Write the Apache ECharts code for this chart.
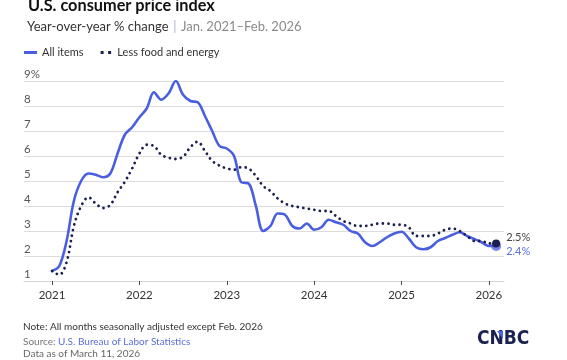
<!DOCTYPE html>
<html>
<head>
<meta charset="utf-8">
<script src="https://cdn.jsdelivr.net/npm/echarts@6/dist/echarts.min.js"></script>
<style>
html,body{margin:0;padding:0;background:#fff;}
#chart{width:567px;height:360px;}
</style>
</head>
<body>
<div id="chart"></div>
<script>
// Months Jan 2021 .. Feb 2026 (index 0 .. 61)
const startYear = 2021;
const yearTicks = ['2021', '2022', '2023', '2024', '2025', '2026'];
const yTicks = [1, 2, 3, 4, 5, 6, 7, 8, 9];

const allItems = [
  1.4, 1.6, 2.6, 4.2, 5.0, 5.3, 5.25, 5.15, 5.3, 6.1, 6.85, 7.15,
  7.55, 7.9, 8.55, 8.25, 8.5, 9.0, 8.45, 8.2, 8.15, 7.6, 7.0, 6.4,
  6.3, 6.0, 4.95, 4.9, 4.0, 3.0, 3.2, 3.7, 3.65, 3.2, 3.1, 3.3,
  3.05, 3.15, 3.45, 3.35, 3.25, 3.0, 2.9, 2.55, 2.4, 2.55, 2.75, 2.9,
  2.97, 2.7, 2.35, 2.27, 2.35, 2.6, 2.72, 2.85, 2.95, 2.8, 2.68, 2.55,
  2.4, 2.4
];
const core = [
  1.4, 1.25, 1.75, 3.2, 4.0, 4.35, 4.1, 3.92, 4.04, 4.55, 4.97, 5.5,
  6.1, 6.45, 6.4, 6.05, 5.93, 5.88, 5.97, 6.35, 6.57, 6.2, 5.8, 5.62,
  5.5, 5.45, 5.55, 5.5, 5.2, 4.8, 4.6, 4.3, 4.1, 4.0, 3.95, 3.9,
  3.85, 3.8, 3.8, 3.6, 3.4, 3.3, 3.2, 3.2, 3.25, 3.3, 3.3, 3.25,
  3.25, 3.15, 2.8, 2.8, 2.8, 2.9, 3.05, 3.1, 3.0, 2.8, 2.6, 2.6,
  2.5, 2.5
];
const allLabel = '2.4%';
const coreLabel = '2.5%';

const blue = '#4a5fe0';
const navy = '#1b1f4f';
const last = allItems.length - 1;
const toXY = arr => arr.map((v, i) => [i, v]);
const yearIdx = yearTicks.map((_, i) => i * 12);
const FONT = 'Lato, "Open Sans", sans-serif';

const chart = echarts.init(document.getElementById('chart'), null, {renderer: 'canvas'});
chart.setOption({
  animation: false,
  backgroundColor: '#fff',
  textStyle: {fontFamily: FONT},
  grid: {left: 24, right: 63, top: 81, bottom: 79, containLabel: false},
  xAxis: {
    type: 'value',
    min: -3.85,
    max: 62.08,
    splitLine: {show: false},
    axisLine: {show: true, lineStyle: {color: '#d6d6d6', width: 1}},
    axisTick: {show: true, customValues: yearIdx, length: 4, lineStyle: {color: '#444'}},
    axisLabel: {
      customValues: yearIdx,
      formatter: v => String(startYear + Math.round(v / 12)),
      color: '#333', fontSize: 11.5, margin: 8, fontFamily: FONT
    }
  },
  yAxis: {
    type: 'value',
    min: 1, max: 9, interval: 1,
    axisLine: {show: false},
    axisTick: {show: false},
    splitLine: {lineStyle: {color: '#dcdcdc', width: 1}},
    axisLabel: {
      inside: true,
      margin: 0,
      align: 'left',
      verticalAlign: 'bottom',
      padding: [0, 0, 1, 0],
      color: '#555', fontSize: 11.5, fontFamily: FONT,
      formatter: v => v === 9 ? '9%' : String(v)
    }
  },
  legend: {
    show: true,
    left: 19, top: 42,
    itemWidth: 13, itemHeight: 3, itemGap: 17,
    textStyle: {color: '#333', fontSize: 11, fontFamily: FONT},
    data: [
      {name: 'All items', icon: 'rect', itemStyle: {color: blue}},
      {name: 'Less food and energy', icon: 'path://M0,0 h2 v2 h-2 z M5,0 h2 v2 h-2 z', itemStyle: {color: navy}}
    ]
  },
  title: [
    {text: 'U.S. consumer price index', left: 23, top: -7,
     textStyle: {fontSize: 16.3, fontWeight: 'bold', color: '#111', fontFamily: FONT}},
    {text: '{a|Year-over-year % change} {b||} {c|Jan. 2021–Feb. 2026}', left: 22, top: 13,
     textStyle: {fontWeight: 'normal', rich: {
       a: {fontSize: 13, color: '#333', fontWeight: 'normal', fontFamily: FONT},
       b: {fontSize: 13, color: '#a9b7d6', fontWeight: 'normal', fontFamily: FONT},
       c: {fontSize: 13, color: '#8a8a8a', fontWeight: 'normal', fontFamily: FONT}
     }}},
    {text: 'Note: All months seasonally adjusted except Feb. 2026', left: 18, top: 317,
     textStyle: {fontSize: 10, fontWeight: 'normal', color: '#333', fontFamily: FONT}},
    {text: '{g|Source: }{l|U.S. Bureau of Labor Statistics}', left: 18, top: 332,
     textStyle: {fontWeight: 'normal', rich: {
       g: {fontSize: 10, color: '#777', fontWeight: 'normal', fontFamily: FONT},
       l: {fontSize: 10, color: '#5b6fd8', fontWeight: 'normal', fontFamily: FONT}
     }}},
    {text: 'Data as of March 11, 2026', left: 18, top: 344,
     textStyle: {fontSize: 10, fontWeight: 'normal', color: '#666', fontFamily: FONT}}
  ],
  graphic: [
    {type: 'text', left: 477, top: 330,
     style: {text: 'CNBC', fontSize: 19, fontWeight: 'bold', fill: '#1b2150', fontFamily: '"DejaVu Sans Condensed", "DejaVu Sans", sans-serif'}},
    {type: 'polygon', shape: {points: [[497, 331], [503, 331], [503, 339]]}, style: {fill: '#4b63e6'}}
  ],
  series: [
    {
      name: 'All items',
      type: 'line',
      data: toXY(allItems),
      smooth: 0.35,
      symbol: 'circle',
      showSymbol: true,
      symbolSize: (v, p) => p.dataIndex === last ? 10 : 0,
      itemStyle: {color: 'rgba(74,95,224,0.75)'},
      lineStyle: {color: blue, width: 2.6},
      endLabel: {show: true, formatter: allLabel, color: '#5b6fe0', fontSize: 11, offset: [2, 5], fontFamily: FONT},
      z: 2
    },
    {
      name: 'Less food and energy',
      type: 'line',
      data: toXY(core),
      smooth: 0.35,
      symbol: 'circle',
      showSymbol: true,
      symbolSize: (v, p) => p.dataIndex === last ? 8 : 0,
      itemStyle: {color: navy},
      lineStyle: {color: navy, width: 2.8, type: [0.01, 5.6], cap: 'round'},
      endLabel: {show: true, formatter: coreLabel, color: '#444', fontSize: 11, offset: [2, -6], fontFamily: FONT},
      z: 3
    }
  ]
});
</script>
</body>
</html>
